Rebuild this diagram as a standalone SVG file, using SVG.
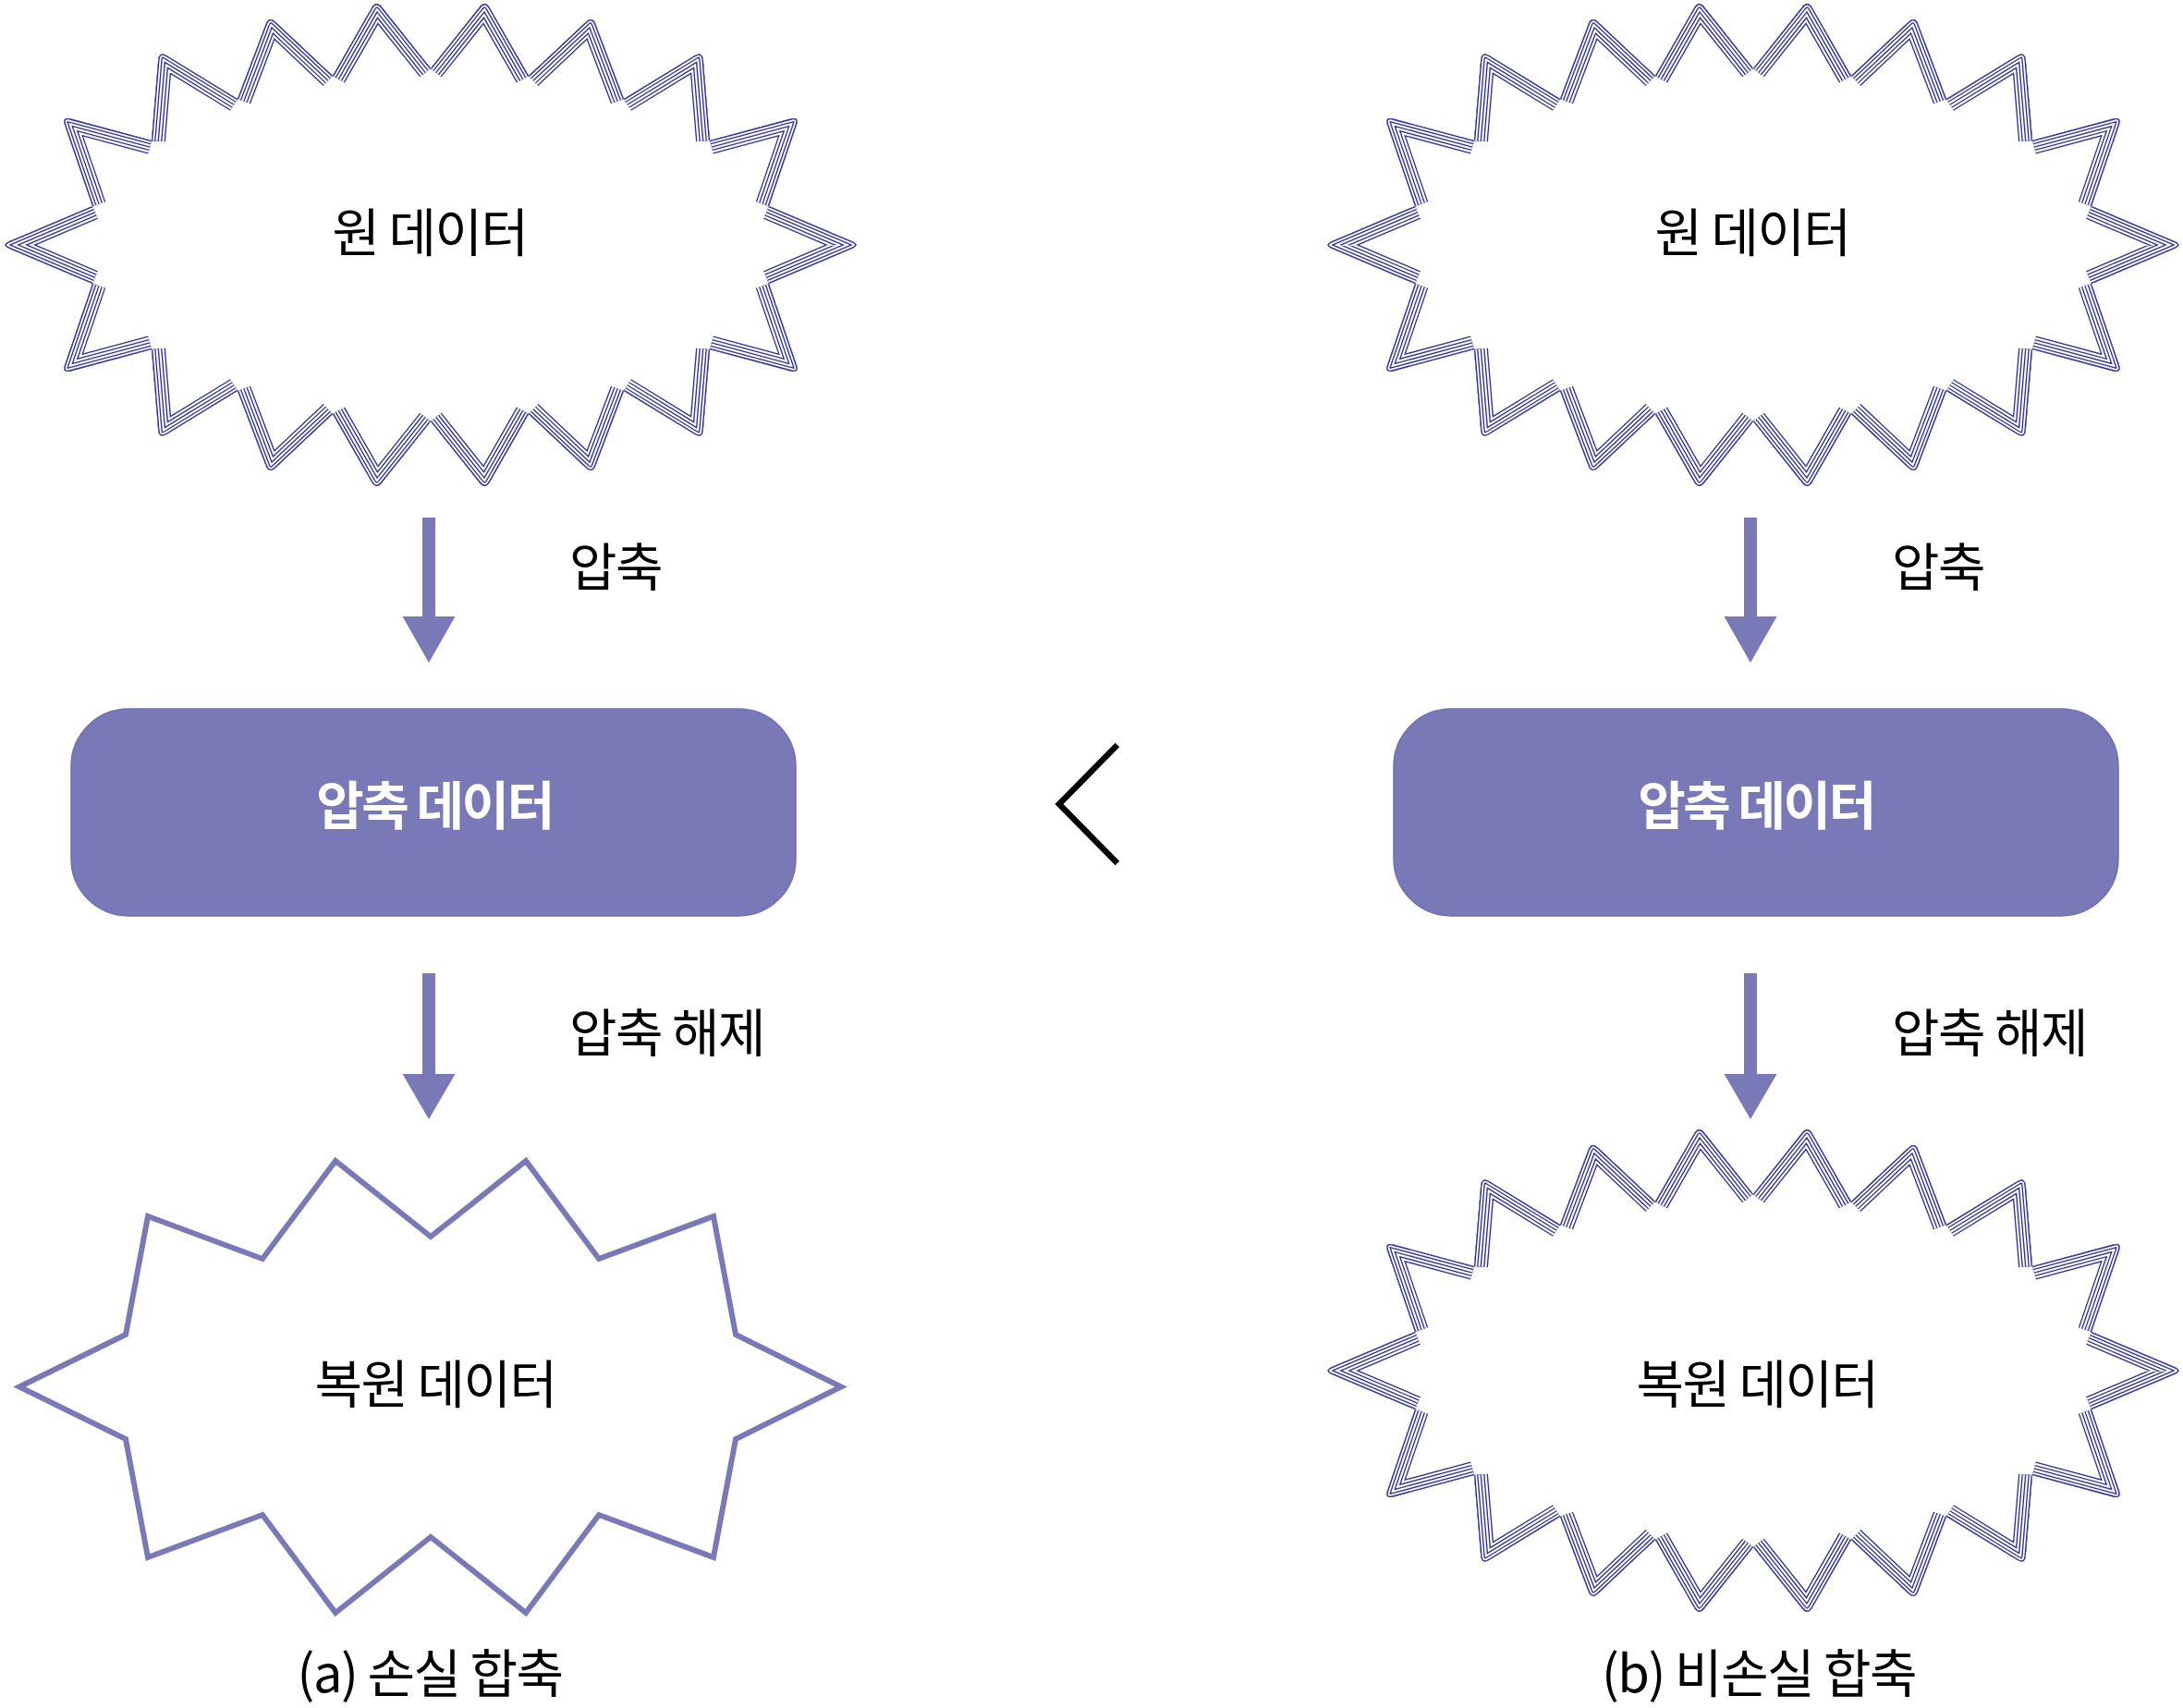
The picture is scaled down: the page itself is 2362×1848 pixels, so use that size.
<svg xmlns="http://www.w3.org/2000/svg" xmlns:xlink="http://www.w3.org/1999/xlink" width="2362" height="1848" viewBox="0 0 2362 1848">
<style>
.t{font-family:"Noto Sans CJK KR","Noto Sans",sans-serif;font-size:56px;fill:#000;letter-spacing:-1.5px;}
.c{text-anchor:middle;}
.w{fill:#fff;font-weight:700;letter-spacing:-2.5px;}
.arr{fill:#7a79b8;}
.box{fill:#7a79b8;stroke:#6f6eb0;stroke-width:1.5;}
</style>
<defs>
<path id="bspk" d="M -366 42 L -455.8 3.9 Q -465 0 -455.8 -3.9 L -366 -42 M -366 -42 L -395.8 -129.5 Q -399 -139 -389.3 -136.4 L -302 -113 M -302 -113 L -294.8 -200 Q -294 -210 -285.5 -204.8 L -209 -158 M -209 -158 L -178.5 -238.6 Q -175 -248 -167.7 -241.1 L -106 -183 M -106 -183 L -64 -256.3 Q -59 -265 -52.8 -257.2 L 0 -191 M 106 -183 L 64 -256.3 Q 59 -265 52.8 -257.2 L 0 -191 M 209 -158 L 178.5 -238.6 Q 175 -248 167.7 -241.1 L 106 -183 M 302 -113 L 294.8 -200 Q 294 -210 285.5 -204.8 L 209 -158 M 366 -42 L 395.8 -129.5 Q 399 -139 389.3 -136.4 L 302 -113 M 366 42 L 455.8 3.9 Q 465 0 455.8 -3.9 L 366 -42 M 366 42 L 395.8 129.5 Q 399 139 389.3 136.4 L 302 113 M 302 113 L 294.8 200 Q 294 210 285.5 204.8 L 209 158 M 209 158 L 178.5 238.6 Q 175 248 167.7 241.1 L 106 183 M 106 183 L 64 256.3 Q 59 265 52.8 257.2 L 0 191 M -106 183 L -64 256.3 Q -59 265 -52.8 257.2 L 0 191 M -209 158 L -178.5 238.6 Q -175 248 -167.7 241.1 L -106 183 M -302 113 L -294.8 200 Q -294 210 -285.5 204.8 L -209 158 M -366 42 L -395.8 129.5 Q -399 139 -389.3 136.4 L -302 113"/>
<path id="bout" d="M -455.8 3.9 Q -465 0 -455.8 -3.9 L -366 -42 L -395.8 -129.5 Q -399 -139 -389.3 -136.4 L -302 -113 L -294.8 -200 Q -294 -210 -285.5 -204.8 L -209 -158 L -178.5 -238.6 Q -175 -248 -167.7 -241.1 L -106 -183 L -64 -256.3 Q -59 -265 -52.8 -257.2 L 0 -191 L 52.8 -257.2 Q 59 -265 64 -256.3 L 106 -183 L 167.7 -241.1 Q 175 -248 178.5 -238.6 L 209 -158 L 285.5 -204.8 Q 294 -210 294.8 -200 L 302 -113 L 389.3 -136.4 Q 399 -139 395.8 -129.5 L 366 -42 L 455.8 -3.9 Q 465 0 455.8 3.9 L 366 42 L 395.8 129.5 Q 399 139 389.3 136.4 L 302 113 L 294.8 200 Q 294 210 285.5 204.8 L 209 158 L 178.5 238.6 Q 175 248 167.7 241.1 L 106 183 L 64 256.3 Q 59 265 52.8 257.2 L 0 191 L -52.8 257.2 Q -59 265 -64 256.3 L -106 183 L -167.7 241.1 Q -175 248 -178.5 238.6 L -209 158 L -285.5 204.8 Q -294 210 -294.8 200 L -302 113 L -389.3 136.4 Q -399 139 -395.8 129.5 L -366 42 Z"/>
<clipPath id="bclip"><use xlink:href="#bout"/></clipPath>
<g id="burst">
<use xlink:href="#bout" fill="#fff"/>
<g clip-path="url(#bclip)" fill="none" stroke-linecap="butt" stroke-linejoin="round">
<use xlink:href="#bspk" stroke="#30309a" stroke-width="30"/>
<use xlink:href="#bspk" stroke="#fff" stroke-width="27.3"/>
<use xlink:href="#bspk" stroke="#30309a" stroke-width="23"/>
<use xlink:href="#bspk" stroke="#fff" stroke-width="20.3"/>
<use xlink:href="#bspk" stroke="#30309a" stroke-width="16"/>
<use xlink:href="#bspk" stroke="#fff" stroke-width="13.3"/>
<use xlink:href="#bspk" stroke="#30309a" stroke-width="9"/>
<use xlink:href="#bspk" stroke="#fff" stroke-width="6.3"/>
<use xlink:href="#bspk" stroke="#30309a" stroke-width="2.7"/>
</g>
</g>
</defs>

<g id="connectors">
<path class="arr" d="M 457 560 H 471 V 667 H 492.5 L 464 717 L 435.5 667 H 457 Z"/>
<path class="arr" d="M 457 1053 H 471 V 1162 H 492.5 L 464 1211 L 435.5 1162 H 457 Z"/>
<path class="arr" d="M 1887 560 H 1901 V 667 H 1922.5 L 1894 717 L 1865.5 667 H 1887 Z"/>
<path class="arr" d="M 1887 1053 H 1901 V 1162 H 1922.5 L 1894 1211 L 1865.5 1162 H 1887 Z"/>
<text class="t" x="616" y="634">압축</text>
<text class="t" x="616" y="1138">압축 해제</text>
<text class="t" x="2047" y="634">압축</text>
<text class="t" x="2047" y="1138">압축 해제</text>
</g>

<g id="orig-a">
<use xlink:href="#burst" transform="translate(466,265)"/>
<text class="t c" x="465" y="272">원 데이터</text>
</g>
<g id="comp-a">
<rect class="box" x="77" y="767" width="784" height="224" rx="62"/>
<text class="t c w" x="470" y="892">압축 데이터</text>
</g>
<g id="rest-a">
<polygon points="21,1500.5 136,1444 160,1316 284,1362 363,1256 466,1338 569,1256 648,1362 772,1316 796,1444 910,1500.5 796,1557 772,1685 648,1639 569,1745 466,1663 363,1745 284,1639 160,1685 136,1557" fill="#fff" stroke="#7a79b8" stroke-width="6"/>
<text class="t c" x="471" y="1518">복원 데이터</text>
</g>

<g id="orig-b">
<use xlink:href="#burst" transform="translate(1897,265)"/>
<text class="t c" x="1896" y="272">원 데이터</text>
</g>
<g id="comp-b">
<rect class="box" x="1508" y="767" width="784" height="224" rx="62"/>
<text class="t c w" x="1900" y="892">압축 데이터</text>
</g>
<g id="rest-b">
<use xlink:href="#burst" transform="translate(1897,1483)"/>
<text class="t c" x="1901" y="1518">복원 데이터</text>
</g>

<g id="compare">
<polyline points="1209,806 1146,870 1209,934" fill="none" stroke="#000" stroke-width="6.5"/>
</g>

<g id="captions">
<text class="t c" x="465" y="1831">(a) 손실 합축</text>
<text class="t c" x="1903" y="1831">(b) 비손실 합축</text>
</g>
</svg>
